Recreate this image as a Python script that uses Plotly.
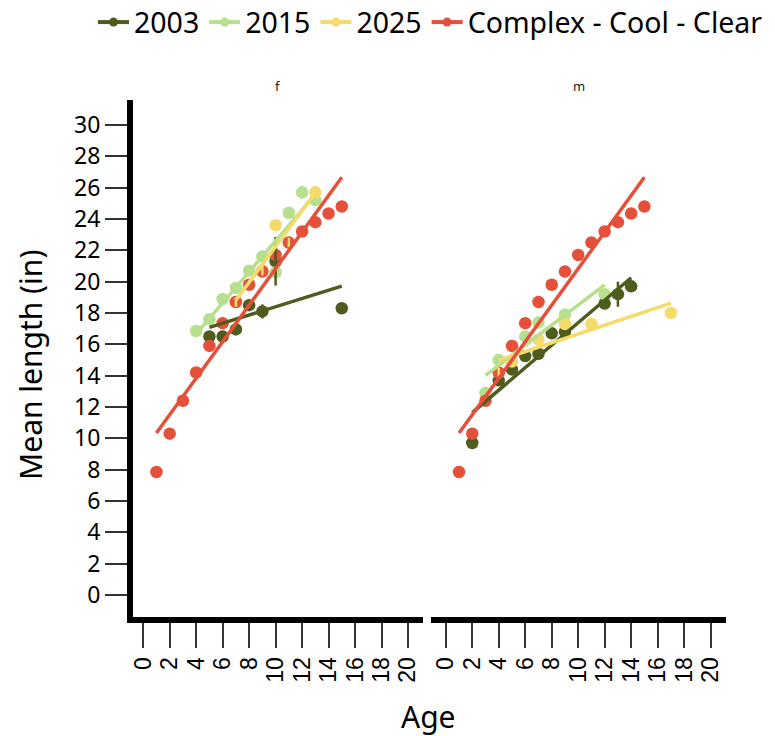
import numpy as np
import plotly.graph_objects as go

# ---- series definitions -------------------------------------------------
series_names = ["2003", "2015", "2025", "Complex - Cool - Clear"]
series_colors = ["#4E5C1E", "#B6E08E", "#F4DB6A", "#E4503A"]

# ---- panel "f" ----------------------------------------------------------
f_age_2003 = [5, 6, 7, 8, 9, 10, 15]
f_len_2003 = [16.5, 16.5, 16.95, 18.5, 18.1, 21.3, 18.3]
f_err_2003 = [0, 0, 0, 0, 0.45, 1.55, 0]

f_age_2015 = [4, 5, 6, 7, 8, 9, 10, 11, 12, 13]
f_len_2015 = [16.85, 17.6, 18.9, 19.6, 20.7, 21.6, 20.6, 24.4, 25.7, 25.2]
f_err_2015 = [0, 0, 0, 0.35, 0, 0, 0, 0.35, 0.4, 0]

f_age_2025 = [7, 9, 10, 11, 13]
f_len_2025 = [18.7, 20.7, 23.6, 22.5, 25.7]
f_err_2025 = [0.3, 0.3, 0, 0.3, 0]

# ---- panel "m" ----------------------------------------------------------
m_age_2003 = [2, 4, 5, 6, 7, 8, 9, 12, 13, 14]
m_len_2003 = [9.7, 13.7, 14.4, 15.25, 15.4, 16.7, 16.8, 18.6, 19.2, 19.7]
m_err_2003 = [0, 0, 0, 0, 0, 0, 0, 0, 0.8, 0]

m_age_2015 = [3, 4, 6, 7, 9, 12]
m_len_2015 = [12.9, 15.0, 16.5, 17.4, 17.9, 19.2]
m_err_2015 = [0, 0, 0, 0, 0, 0]

m_age_2025 = [4, 5, 7, 9, 11, 17]
m_len_2025 = [14.2, 14.9, 16.3, 17.3, 17.3, 18.0]
m_err_2025 = [0.3, 0, 0, 0, 0, 0]

# ---- reference curve (same in both panels) ------------------------------
ref_age = [1, 2, 3, 4, 5, 6, 7, 8, 9, 10, 11, 12, 13, 14, 15]
ref_len = [7.85, 10.3, 12.4, 14.2, 15.9, 17.35, 18.7, 19.8, 20.65,
           21.7, 22.5, 23.2, 23.8, 24.35, 24.8]
ref_err = [0] * len(ref_age)

x_ticks = list(range(0, 21, 2))
y_ticks = list(range(0, 31, 2))

panels = {
    "f": [(f_age_2003, f_len_2003, f_err_2003),
          (f_age_2015, f_len_2015, f_err_2015),
          (f_age_2025, f_len_2025, f_err_2025),
          (ref_age, ref_len, ref_err)],
    "m": [(m_age_2003, m_len_2003, m_err_2003),
          (m_age_2015, m_len_2015, m_err_2015),
          (m_age_2025, m_len_2025, m_err_2025),
          (ref_age, ref_len, ref_err)],
}
axes_ref = {"f": ("x", "y"), "m": ("x2", "y2")}

fig = go.Figure()

for panel, data in panels.items():
    xa, ya = axes_ref[panel]
    # points
    for (age, length, err), name, col in zip(data, series_names, series_colors):
        fig.add_trace(go.Scatter(
            x=age, y=length, mode="markers", xaxis=xa, yaxis=ya,
            marker=dict(color=col, size=12.5), showlegend=False,
            hoverinfo="skip"))
    # error bars, drawn above all points
    for (age, length, err), name, col in zip(data, series_names, series_colors):
        fig.add_trace(go.Scatter(
            x=age, y=length, mode="markers", xaxis=xa, yaxis=ya,
            marker=dict(color="rgba(0,0,0,0)", size=1),
            error_y=dict(type="data", array=err, visible=True,
                         color=col, thickness=2.5, width=0),
            showlegend=False, hoverinfo="skip"))
    # linear fits across each series' age range
    for (age, length, err), name, col in zip(data, series_names, series_colors):
        slope, intercept = np.polyfit(age, length, 1)
        xs = np.array([min(age), max(age)], dtype=float)
        fig.add_trace(go.Scatter(
            x=xs, y=slope * xs + intercept, mode="lines", xaxis=xa, yaxis=ya,
            line=dict(color=col, width=3.5), showlegend=False,
            hoverinfo="skip"))

# legend keys
for name, col in zip(series_names, series_colors):
    fig.add_trace(go.Scatter(
        x=[None], y=[None], mode="lines+markers", name=name,
        line=dict(color=col, width=4), marker=dict(color=col, size=9)))

W, H = 775, 736
px_per_age = 13.24      # horizontal scale shared by both panels
px_per_inch = 15.667    # vertical scale
left_zero, right_zero, y_zero = 143.2, 445.8, 595.0

left_px = (133, 423)
right_px = (431, 726)
y_px = (617, 100)       # bottom, top

dom_left = [left_px[0] / W, left_px[1] / W]
dom_right = [right_px[0] / W, right_px[1] / W]
dom_y = [1 - y_px[0] / H, 1 - y_px[1] / H]
x_range_l = [(p - left_zero) / px_per_age for p in left_px]
x_range_r = [(p - right_zero) / px_per_age for p in right_px]
y_range = [(y_zero - p) / px_per_inch for p in y_px]

xaxis_common = dict(
    tickmode="array", tickvals=x_ticks,
    ticktext=[str(v) for v in x_ticks], ticks="outside", ticklen=25,
    tickwidth=2, tickcolor="#333333", showline=True, linewidth=6,
    linecolor="black", tickangle=-90, showgrid=False, zeroline=False,
    tickfont=dict(family="Liberation Sans", size=23, color="black"),
)

fig.update_layout(
    width=W, height=H,
    margin=dict(l=0, r=0, t=0, b=0, autoexpand=False),
    paper_bgcolor="white", plot_bgcolor="white",
    font=dict(family="Noto Sans", color="black"),
    xaxis=dict(domain=dom_left, anchor="y", range=x_range_l, **xaxis_common),
    xaxis2=dict(domain=dom_right, anchor="y2", range=x_range_r, **xaxis_common),
    yaxis=dict(domain=dom_y, anchor="x", range=y_range, tickmode="array",
               tickvals=y_ticks, ticks="outside", ticklen=22, tickwidth=2,
               tickcolor="#333333", showline=True, linewidth=6,
               linecolor="black", showgrid=False, zeroline=False,
               tickfont=dict(family="Noto Sans", size=23, color="black")),
    yaxis2=dict(domain=dom_y, anchor="x2", range=y_range,
                showline=False, showticklabels=False, ticks="",
                showgrid=False, zeroline=False),
    legend=dict(orientation="h", x=93 / W, xanchor="left",
                y=1.004, yanchor="top", font=dict(size=28.5, family="Noto Sans"),
                bgcolor="rgba(0,0,0,0)", itemwidth=31, tracegroupgap=0),
    annotations=[
        dict(text="f", x=sum(dom_left) / 2, y=1 - 86 / H, xref="paper",
             yref="paper", showarrow=False, xanchor="center",
             yanchor="middle", font=dict(size=13, color="#1a1a1a")),
        dict(text="m", x=sum(dom_right) / 2, y=1 - 86 / H, xref="paper",
             yref="paper", showarrow=False, xanchor="center",
             yanchor="middle", font=dict(size=13, color="#1a1a1a")),
        dict(text="Mean length (in)", x=30 / W, y=1 - 365 / H,
             xref="paper", yref="paper", showarrow=False, textangle=-90,
             xanchor="center", yanchor="middle", font=dict(size=30)),
        dict(text="Age", x=428 / W, y=1 - 716 / H, xref="paper",
             yref="paper", showarrow=False, xanchor="center",
             yanchor="middle", font=dict(size=30)),
    ],
)

fig.write_html("out.html")
